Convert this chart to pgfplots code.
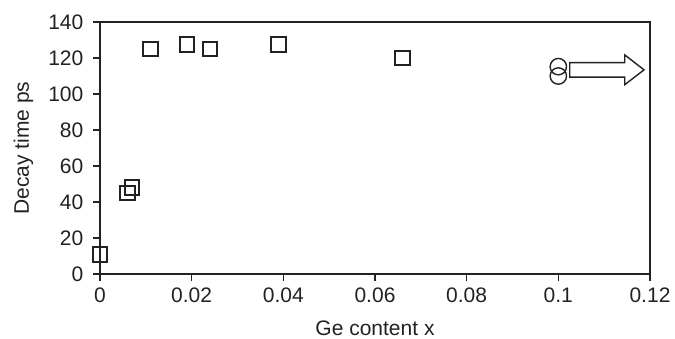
\documentclass[border=0pt]{standalone}
\usepackage{pgfplots}
\pgfplotsset{compat=1.18}
\usepackage{fontspec}
\setmainfont{Liberation Sans}
\definecolor{ink}{HTML}{222222}
\begin{document}
\begin{tikzpicture}
\begin{axis}[
  scale only axis,
  width=275pt, height=126pt,
  xmin=0, xmax=0.12, ymin=0, ymax=140,
  xtick={0,0.02,0.04,0.06,0.08,0.1,0.12},
  xticklabels={0,0.02,0.04,0.06,0.08,0.1,0.12},
  ytick={0,20,40,60,80,100,120,140},
  tick align=outside,
  xtick pos=bottom, ytick pos=left,
  major tick length=3.3pt,
  axis line style={ink, line width=0.7pt},
  tick style={ink, line width=0.6pt},
  tick label style={font=\fontsize{10.5}{12}\selectfont, text=ink},
  yticklabel style={xshift=-1.5pt},
  /pgf/number format/assume math mode=true,
  xlabel={Ge content x}, ylabel={Decay time ps},
  label style={font=\fontsize{10.5}{12}\selectfont, text=ink},
  xlabel style={at={(axis description cs:0.5,-0.214)}, anchor=center},
  ylabel style={at={(axis description cs:-0.139,0.5)}, anchor=center},
  clip=false,
]
\addplot[only marks, mark=square, mark size=3.7pt, draw=ink, line width=1pt, mark options={fill=white}]
  coordinates {(0,11) (0.006,45) (0.007,48) (0.011,125) (0.019,127.5) (0.024,125) (0.039,127.5) (0.066,120)};
\addplot[only marks, mark=o, mark size=4.1pt, draw=ink, line width=0.7pt, mark options={fill=white}]
  coordinates {(0.1,115.2) (0.1,110)};
\draw[ink, line width=0.7pt, fill=white]
  (axis cs:0.1025,117.4) -- (axis cs:0.1145,117.4) -- (axis cs:0.1145,121.7)
  -- (axis cs:0.1187,113.4) -- (axis cs:0.1145,105.2) -- (axis cs:0.1145,109.4)
  -- (axis cs:0.1025,109.4) -- cycle;
\end{axis}
\pgfresetboundingbox
\path[use as bounding box] (-50pt,-32pt) rectangle (287.5pt,137pt);
\end{tikzpicture}
\end{document}
